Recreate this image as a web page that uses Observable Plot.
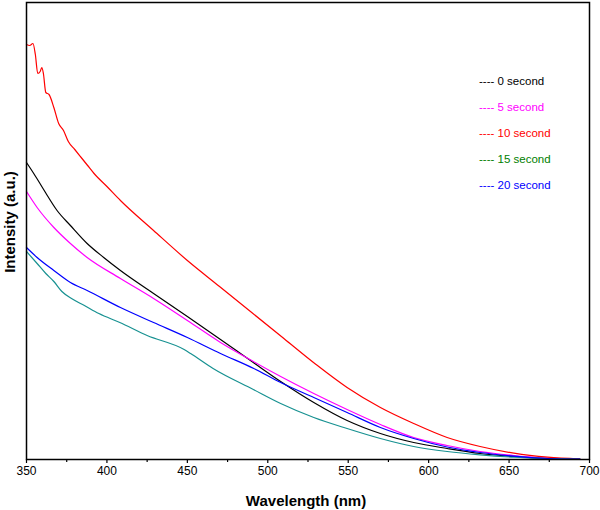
<!DOCTYPE html>
<html>
<head>
<meta charset="utf-8">
<script src="https://cdn.jsdelivr.net/npm/d3@7"></script>
<script src="https://cdn.jsdelivr.net/npm/@observablehq/plot@0.6"></script>
<style>
  html, body { margin: 0; padding: 0; background: white; }
  #wrap { position: relative; width: 600px; height: 510px; }
  #legend { position: absolute; left: 479px; top: 68px; font-family: Arial, "Liberation Sans", sans-serif; font-size: 11.5px; }
  #legend div { height: 26px; line-height: 26px; white-space: pre; }
</style>
</head>
<body>
<div id="wrap"><div id="legend"></div></div>
<script>
// ---- data (intensity in arbitrary units) ----
const seriesNames = ["0 second", "5 second", "10 second", "15 second", "20 second"];
const lineColors  = ["#000000", "#ff00ff", "#ff0000", "#179191", "#0000ff"];
const legendColors = ["#000000", "#ff00ff", "#ff0000", "#008000", "#0000ff"];

const wl0  = [350, 354.5, 358, 361.8, 369, 377.3, 387.7, 398, 408.4, 429, 450, 470.6, 491, 508, 528.6, 549.3, 570, 590.7, 611.5, 632, 653, 674, 694];
const int0 = [297, 286, 277, 267, 249, 234, 216, 202, 189, 166, 143, 120, 97, 78, 57, 39, 26, 17, 11, 6, 3, 1, 0.3];

const wl5  = [350, 356.6, 367, 377.3, 387.7, 408.4, 429, 450, 470.6, 491, 508, 528.6, 549.3, 570, 590.7, 611.5, 632, 653, 674, 694];
const int5 = [268, 252, 232, 216, 202, 181, 161, 139, 117, 98, 83, 66, 50, 35, 22, 14, 8, 4, 1.3, 0.3];

const wl10  = [350, 352, 354, 355.5, 357, 358.5, 359.5, 360.5, 362, 364, 367, 370, 373, 376, 380, 384, 388, 392, 400, 408.4, 429, 450, 470, 490, 510, 530, 549.3, 570, 590.7, 611.5, 632, 653, 674, 694];
const int10 = [415, 414, 416, 405, 386, 388, 392, 386, 367, 365, 352, 336, 329, 318, 310, 302, 294, 286, 273, 259, 229, 199, 173, 147, 121, 95, 72, 52, 36, 22, 13, 6.3, 2.3, 0.5];

const wl15  = [350, 356.6, 362, 367, 372, 378, 386, 395, 408, 425, 448, 452, 466, 491, 508, 528.6, 549.3, 570, 590.7, 611.5, 632, 653, 674, 694];
const int15 = [208, 196, 186, 178, 168, 161, 154, 146, 137, 124, 110, 106, 91, 70, 56, 42, 31, 21, 13, 8, 4.7, 2.3, 1, 0.3];

const wl20  = [350, 356.6, 367, 377.3, 387.7, 408.4, 429, 450, 470.6, 491.3, 508, 528.6, 549.3, 570, 590.7, 611.5, 632, 653, 674, 694];
const int20 = [212, 202, 189, 177, 169, 152, 137, 122, 106, 91, 77, 62, 47, 32, 21, 12.5, 7, 3.3, 1, 0.3];

const xMajorTicks = [350, 400, 450, 500, 550, 600, 650, 700];
const xMinorTicks = [375, 425, 475, 525, 575, 625, 675];
const xLabel = "Wavelength (nm)";
const yLabel = "Intensity (a.u.)";

// ---- build table ----
const wls = [wl0, wl5, wl10, wl15, wl20];
const ints = [int0, int5, int10, int15, int20];
const rows = [];
seriesNames.forEach((name, i) => {
  wls[i].forEach((w, j) => rows.push({series: name, wl: w, intensity: ints[i][j]}));
});

const font = "Arial, 'Liberation Sans', sans-serif";

const chart = Plot.plot({
  width: 600,
  height: 510,
  marginLeft: 26,
  marginRight: 11,
  marginTop: 2,
  marginBottom: 51,
  style: {fontFamily: font, fontSize: "12px", color: "black", background: "white"},
  x: {domain: [350, 700], label: null},
  y: {domain: [0, 457], axis: null, label: null},
  color: {domain: seriesNames, range: lineColors},
  marks: [
    Plot.axisX(xMajorTicks, {tickSize: 4, tickPadding: 3, strokeWidth: 1.2, fontSize: 12, label: null}),
    Plot.axisX(xMinorTicks, {tickSize: 3, tickFormat: () => "", strokeWidth: 1.2, label: null}),
    ...seriesNames.map(name => Plot.line(rows.filter(r => r.series === name), {
      x: "wl", y: "intensity", stroke: "series", strokeWidth: 1.2, curve: "monotone-x"
    })),
    Plot.frame({stroke: "black", strokeWidth: 1.5}),
    Plot.text([xLabel], {frameAnchor: "bottom", dy: 42, dx: -2, textAnchor: "middle", lineAnchor: "middle", fontSize: 15, fontWeight: "bold", fill: "black"}),
    Plot.text([yLabel], {frameAnchor: "left", dx: -16, dy: -9, rotate: -90, textAnchor: "middle", lineAnchor: "middle", fontSize: 15, fontWeight: "bold", fill: "black"})
  ]
});

const wrap = document.getElementById("wrap");
wrap.insertBefore(chart, wrap.firstChild);

const legend = document.getElementById("legend");
seriesNames.forEach((name, i) => {
  const d = document.createElement("div");
  d.textContent = "---- " + name;
  d.style.color = legendColors[i];
  legend.appendChild(d);
});
</script>
</body>
</html>
